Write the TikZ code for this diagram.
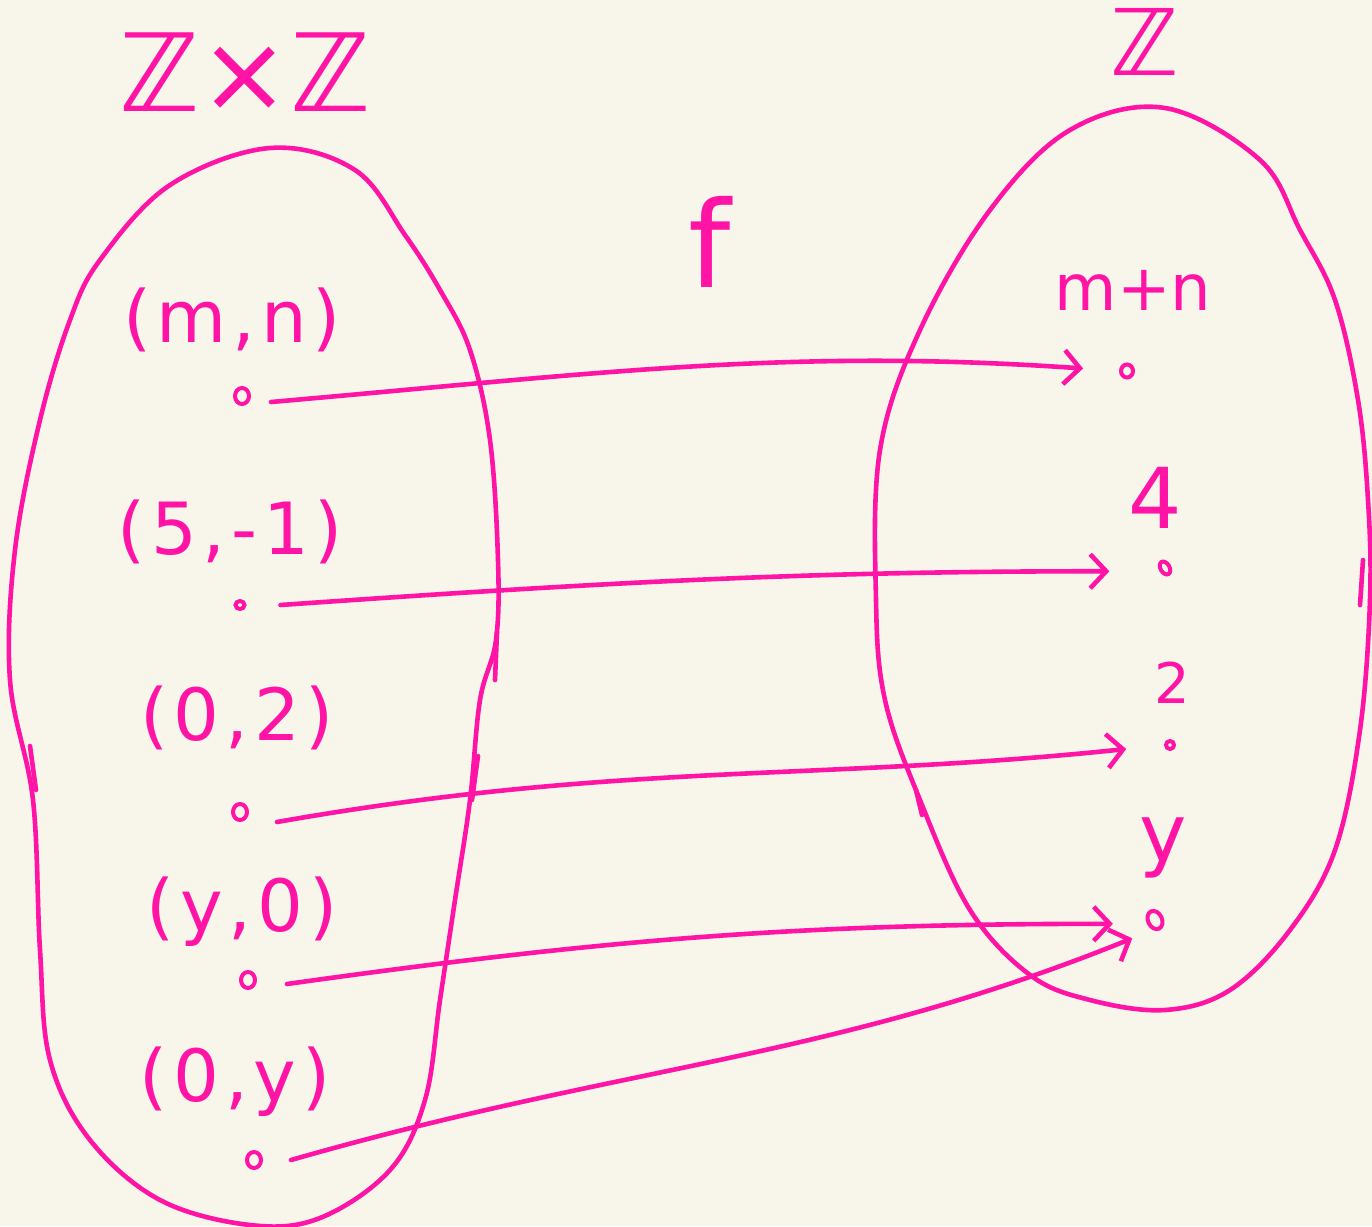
\documentclass[tikz,border=0pt]{standalone}
\usepackage{fontspec}
\setmainfont{DejaVu Sans}
\usetikzlibrary{arrows.meta,shapes.geometric}
\definecolor{bg}{HTML}{F8F6EA}
\definecolor{ink}{HTML}{FF14A5}
\tikzset{
  pen/.style={draw=ink, line width=4.6pt, line cap=round, line join=round},
  lbl/.style={text=ink, font=\fontsize{72}{76}\selectfont\addfontfeature{LetterSpace=8}, inner sep=0pt},
  rl/.style={text=ink, inner sep=0pt},
  big/.style={text=ink, inner sep=0pt},
  pt/.style={ellipse, draw=ink, line width=4pt, minimum width=14pt, minimum height=16pt, inner sep=0pt},
  arr/.style={pen, -{Straight Barb[length=16pt, width=34pt, line width=4.6pt]}},
}
\begin{document}
\begin{tikzpicture}[x=1pt, y=-1pt]
\fill[bg] (0,0) rectangle (1372,1226);
\useasboundingbox (0,0) rectangle (1372,1226);

% left oval
\draw[pen] plot[smooth cycle, tension=0.6] coordinates {
 (270,148) (355,170) (405,235) (440,290) (470,350) (490,440) (498,560) (496,640)
 (480,700) (470,800) (455,900) (440,1000) (425,1100) (390,1170) (320,1218)
 (250,1225) (160,1200) (90,1140) (50,1060) (40,950) (33,800) (10,680)
 (15,550) (40,420) (70,320) (100,260) (170,185)};
% right oval
\draw[pen] plot[smooth cycle, tension=0.6] coordinates {
 (1165,108) (1260,160) (1300,230) (1335,300) (1358,400) (1368,500) (1370,600)
 (1360,730) (1335,850) (1290,930) (1230,990) (1165,1010) (1090,1000) (1030,975)
 (970,910) (920,800) (885,700) (876,600) (880,450) (920,330) (990,210) (1070,130)};
% stray strokes
\draw[pen] (497,632) -- (495,680);
\draw[pen] (478,756) -- (472,800);
\draw[pen] (30,746) -- (36,790);
\draw[pen] (1363,560) -- (1360,605);
\draw[pen] (916,790) -- (922,815);

% set labels
\node[big, font=\fontsize{108}{112}\selectfont] (zz) at (245,72) {ℤ×ℤ};
\node[big, font=\fontsize{92}{96}\selectfont] (z) at (1145,42) {ℤ};
\node[big, font=\fontsize{120}{124}\selectfont] (f) at (710,242) {f};

% left elements
\node[lbl] (t1) at (232,320) {(m,n)};
\node[lbl] (t2) at (230,532) {(5,-1)};
\node[lbl] (t3) at (237,718) {(0,2)};
\node[lbl] (t4) at (242,912) {(y,0)};
\node[lbl] (t5) at (235,1082) {(0,y)};
\node[pt] (l1) at (242,396) {};
\node[pt, minimum width=9pt, minimum height=8pt] (l2) at (240,605) {};
\node[pt] (l3) at (240,812) {};
\node[pt] (l4) at (248,980) {};
\node[pt] (l5) at (254,1160) {};

% right elements
\node[rl, font=\fontsize{64}{68}\selectfont] (s1) at (1133,290) {m+n};
\node[rl, font=\fontsize{84}{88}\selectfont] (s2) at (1155,498) {4};
\node[rl, font=\fontsize{56}{60}\selectfont] (s3) at (1172,683) {2};
\node[rl, font=\fontsize{80}{84}\selectfont] (s4) at (1163,848) {y};
\node[pt, minimum width=12pt, minimum height=13pt] (r1) at (1127,371) {};
\node[pt, minimum width=9pt, minimum height=14pt, rotate=30] (r2) at (1165,568) {};
\node[pt, minimum width=8pt, minimum height=8pt] (r3) at (1170,745) {};
\node[pt, minimum width=14pt, minimum height=19pt, rotate=25] (r4) at (1155,920) {};

% arrows
\draw[arr, shorten >=36pt] ([xshift=20pt,yshift=-6pt]l1.east) to[out=5,in=176] (r1.west);
\draw[arr, shorten >=50pt] ([xshift=34pt]l2.east) to[out=4,in=180] (r2.west);
\draw[arr, shorten >=38pt] ([xshift=28pt,yshift=-10pt]l3.east) to[out=10,in=186] (r3.west);
\draw[arr, shorten >=34pt] ([xshift=30pt,yshift=-4pt]l4.east) to[out=8,in=180] (r4.west);
\draw[arr, shorten >=22pt] ([xshift=28pt]l5.east) to[out=16,in=202] (r4.south west);
\end{tikzpicture}
\end{document}
